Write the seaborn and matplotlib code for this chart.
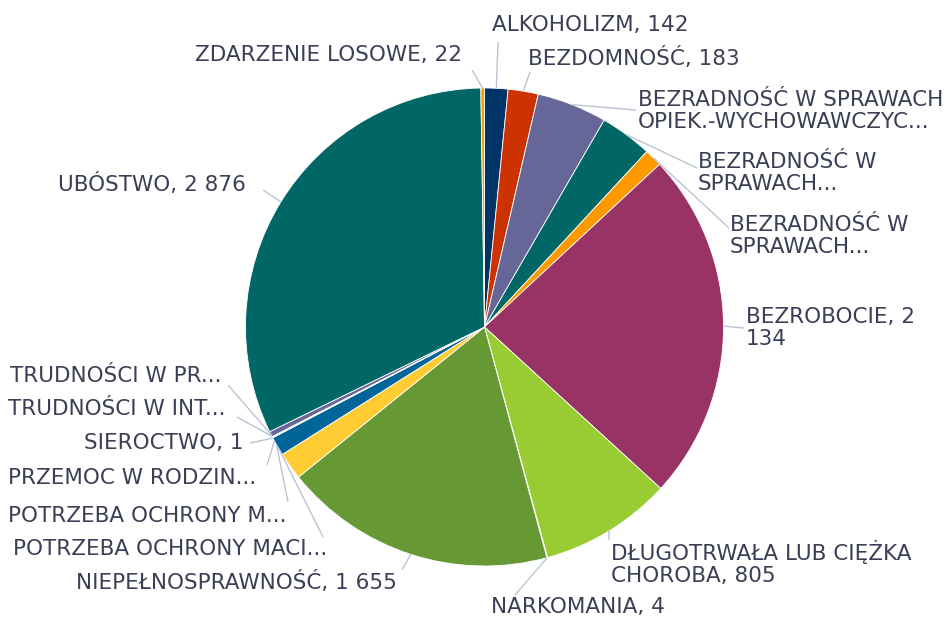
import numpy as np
import matplotlib.pyplot as plt
import seaborn as sns

# slices in drawing order (clockwise from 12 o'clock)
labels = [
    "ALKOHOLIZM, 142",
    "BEZDOMNOŚĆ, 183",
    "BEZRADNOŚĆ W SPRAWACH\nOPIEK.-WYCHOWAWCZYC...",
    "BEZRADNOŚĆ W\nSPRAWACH...",
    "BEZRADNOŚĆ W\nSPRAWACH...",
    "BEZROBOCIE, 2\n134",
    "DŁUGOTRWAŁA LUB CIĘŻKA\nCHOROBA, 805",
    "NARKOMANIA, 4",
    "NIEPEŁNOSPRAWNOŚĆ, 1 655",
    "POTRZEBA OCHRONY MACI...",
    "POTRZEBA OCHRONY M...",
    "PRZEMOC W RODZIN...",
    "SIEROCTWO, 1",
    "TRUDNOŚCI W INT...",
    "TRUDNOŚCI W PR...",
    "UBÓSTWO, 2 876",
    "ZDARZENIE LOSOWE, 22",
]
values = [142, 183, 426, 318, 108, 2134, 805, 4, 1655, 167, 115, 3, 1, 4, 33, 2876, 22]
colors = [
    "#003366", "#cc3300", "#666699", "#006666", "#ff9900", "#993366",
    "#99cc33", "#cc6699", "#669933", "#ffcc33", "#006699", "#990066",
    "#003366", "#cc3300", "#666699", "#006666", "#ff9900",
]

# label layout in pixels (top-left origin): text x, text y, alignment, leader end, leader start angle
text_pos = [
    (492, 25, "left"), (528, 58, "left"), (638, 111, "left"), (698, 173, "left"),
    (730, 236, "left"), (746, 328, "left"), (611, 563, "left"), (491, 607, "left"),
    (397, 582, "right"), (327, 549, "right"), (287, 516, "right"), (256, 478, "right"),
    (244, 443, "right"), (226, 409, "right"), (221, 376, "right"), (246, 184, "right"),
    (462, 55, "right"),
]
line_end = [
    (498, 42), (530, 72), (636, 110), (697, 168), (729, 228), (744, 328), (609, 540),
    (515, 595), (402, 570), (323, 537), (288, 502), (267, 465), (250, 443), (237, 417),
    (228, 385), (263, 190), (472, 70),
]
line_angle = [None] * 9 + [239.5, 240.5, 241.5, 242.3, 242.8, 243.2, None, None]

W, H = 952, 618
CX, CY, R = 484.5, 327, 239

sns.set_theme(style="white")
plt.rcParams["font.family"] = ["DejaVu Sans"]
text_color = "#3b3f55"
line_color = "#b9c4d4"

fig = plt.figure(figsize=(W / 100, H / 100), dpi=100)
ax = fig.add_axes([0, 0, 1, 1])
ax.pie(
    values,
    colors=sns.color_palette(colors),
    startangle=90,
    counterclock=False,
    center=(CX, H - CY),
    radius=R,
    wedgeprops=dict(edgecolor="white", linewidth=0.6),
)
ax.set_xlim(0, W)
ax.set_ylim(0, H)
ax.set_aspect("equal")
ax.axis("off")

total = sum(values)
cum = np.cumsum([0] + values)
for i, lab in enumerate(labels):
    ang = line_angle[i]
    if ang is None:
        ang = (cum[i] + values[i] / 2) / total * 360
    a = np.deg2rad(ang)
    sx, sy = CX + R * np.sin(a), CY - R * np.cos(a)
    ex, ey = line_end[i]
    ax.plot([sx, ex], [H - sy, H - ey], color=line_color, lw=1, solid_capstyle="butt")
    tx, ty, ha = text_pos[i]
    ax.text(tx, H - ty, lab, ha=ha, va="center", fontsize=15.5,
            color=text_color, linespacing=1.1)

fig.savefig("out.png", dpi=100)
